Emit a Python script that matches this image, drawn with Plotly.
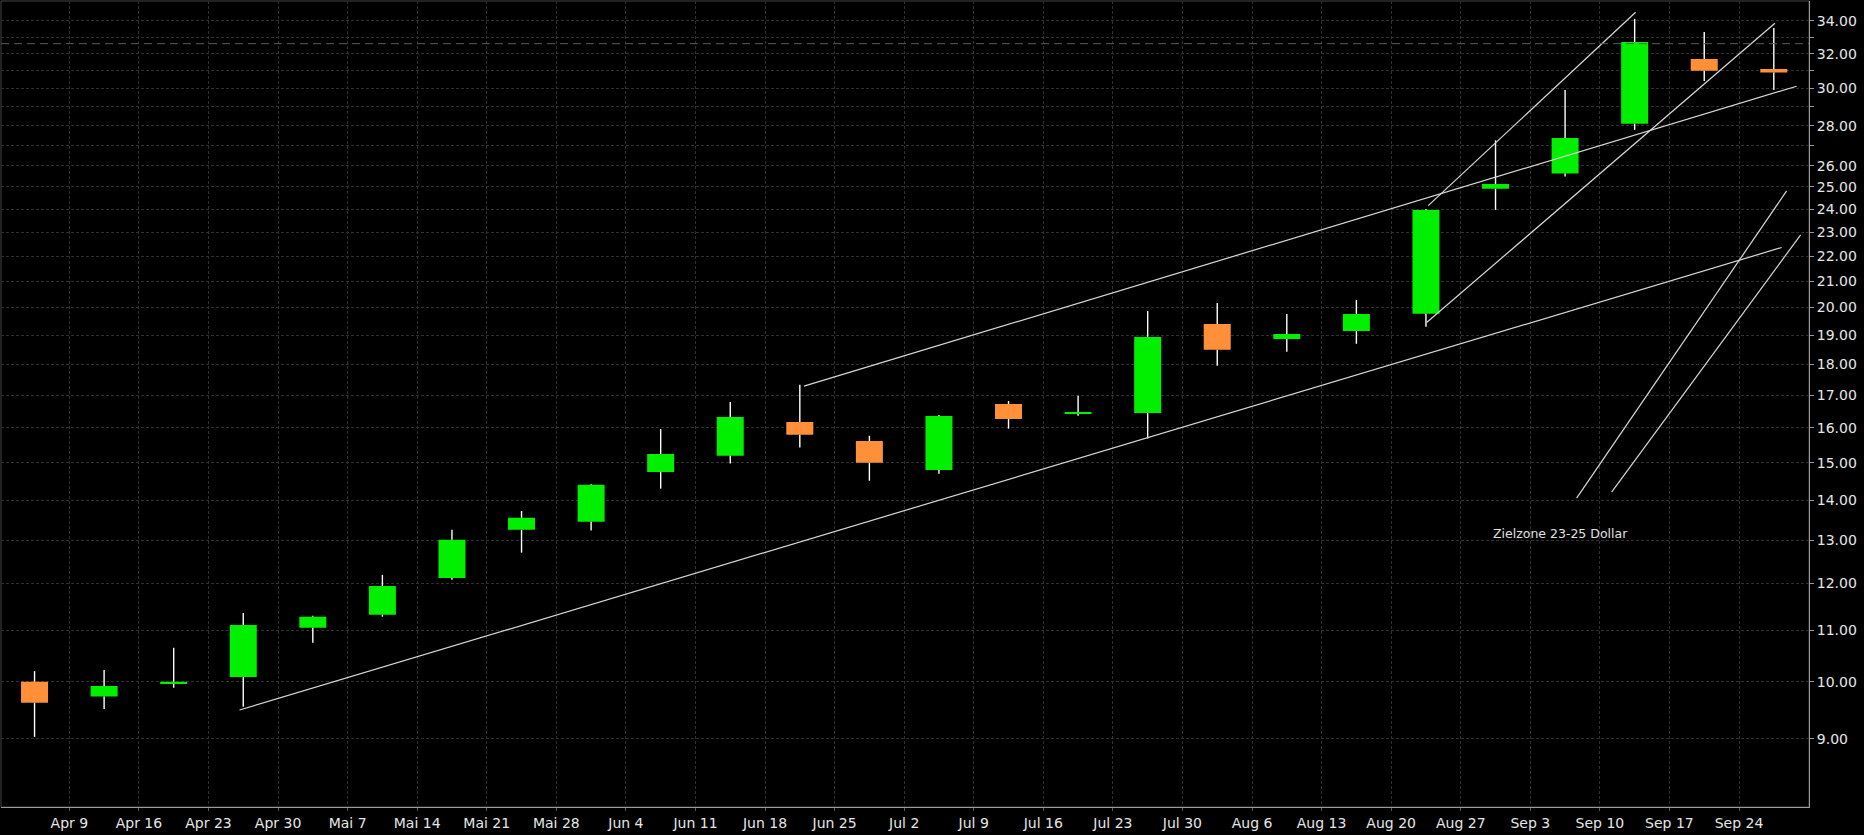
import math
import plotly.graph_objects as go

# ---- data (weekly candles, week start dates) ----
weeks = ["2012-04-02", "2012-04-09", "2012-04-16", "2012-04-23", "2012-04-30",
         "2012-05-07", "2012-05-14", "2012-05-21", "2012-05-28", "2012-06-04",
         "2012-06-11", "2012-06-18", "2012-06-25", "2012-07-02", "2012-07-09",
         "2012-07-16", "2012-07-23", "2012-07-30", "2012-08-06", "2012-08-13",
         "2012-08-20", "2012-08-27", "2012-09-03", "2012-09-10", "2012-09-17",
         "2012-09-24"]
opens = [10.00, 9.73, 9.96, 10.09, 11.05, 11.32, 12.12, 13.25, 13.45, 14.75,
         15.20, 16.18, 15.62, 14.80, 16.73, 16.42, 16.45, 19.40, 18.87, 19.15,
         19.77, 24.92, 25.63, 28.11, 31.69, 31.11]
highs = [10.20, 10.22, 10.65, 11.36, 11.30, 12.19, 13.25, 13.72, 14.42, 15.97,
         16.79, 17.33, 15.77, 16.39, 16.82, 16.98, 19.87, 20.17, 19.76, 20.28,
         24.00, 27.26, 29.92, 34.13, 33.31, 33.56]
lows = [9.03, 9.51, 9.89, 9.55, 10.75, 11.28, 12.08, 12.70, 13.23, 14.30,
        14.98, 15.43, 14.51, 14.70, 15.98, 16.37, 15.69, 17.95, 18.43, 18.70,
        19.30, 23.96, 25.49, 27.79, 30.42, 29.92]
closes = [9.62, 9.92, 10.00, 11.11, 11.28, 11.94, 13.01, 13.55, 14.40, 15.25,
          16.33, 15.80, 15.00, 16.36, 16.27, 16.48, 18.94, 18.49, 19.04, 19.76,
          23.96, 25.14, 27.38, 32.70, 31.01, 30.90]

tick_dates = weeks[1:]
tick_labels = ["Apr 9", "Apr 16", "Apr 23", "Apr 30", "Mai 7", "Mai 14", "Mai 21",
               "Mai 28", "Jun 4", "Jun 11", "Jun 18", "Jun 25", "Jul 2", "Jul 9",
               "Jul 16", "Jul 23", "Jul 30", "Aug 6", "Aug 13", "Aug 20", "Aug 27",
               "Sep 3", "Sep 10", "Sep 17", "Sep 24"]

price_ticks = list(range(9, 35))
price_labels = ["" if (v > 26 and v % 2 == 1) else f"{v:.2f}" for v in price_ticks]

# drawn trend lines: (x start, x end), (y start, y end)
trend_lines = [
    (["2012-04-26 03:00", "2012-09-28 07:00"], [9.49, 22.35]),
    (["2012-06-21 22:00", "2012-09-29 19:00"], [17.29, 30.13]),
    (["2012-08-23 13:40", "2012-09-27 14:40"], [19.45, 33.86]),
    (["2012-08-23 17:30", "2012-09-13 14:20"], [24.15, 34.55]),
    (["2012-09-07 15:50", "2012-09-28 19:00"], [14.05, 24.82]),
    (["2012-09-11 04:20", "2012-09-30 04:50"], [14.21, 22.88]),
]
level_price = 32.6
note_text = "Zielzone 23-25 Dollar"
note_x = "2012-09-06"
note_y = 13.17

x_range = ["2012-04-02 03:00", "2012-10-01 01:00"]
y_range = [7.93, 35.28]

GREEN = "#00F000"
ORANGE = "#FF9038"
FONT = "DejaVu Sans"
WEEK_MS = 7 * 24 * 3600 * 1000

fig = go.Figure()

# wicks (drawn outside the bodies)
wx, wy = [], []
for d, o, h, l, c in zip(weeks, opens, highs, lows, closes):
    top, bot = max(o, c), min(o, c)
    wx += [d, d, d, d, d, d]
    wy += [h, top, None, bot, l, None]
fig.add_trace(go.Scatter(
    x=wx, y=wy, mode="lines", line=dict(color="#ffffff", width=1.4),
    xperiod=WEEK_MS, xperiod0=weeks[0], xperiodalignment="middle",
    hoverinfo="skip", showlegend=False))

fig.add_trace(go.Candlestick(
    x=weeks, open=opens, high=highs, low=lows, close=closes,
    xperiod=WEEK_MS, xperiod0=weeks[0], xperiodalignment="middle",
    increasing=dict(fillcolor=GREEN, line=dict(color=GREEN, width=0)),
    decreasing=dict(fillcolor=ORANGE, line=dict(color=ORANGE, width=0)),
    whiskerwidth=0, showlegend=False))

for xs, ys in trend_lines:
    fig.add_trace(go.Scatter(x=xs, y=ys, mode="lines",
                             line=dict(color="#d8d8d8", width=1.2),
                             hoverinfo="skip", showlegend=False))

fig.add_trace(go.Scatter(x=x_range, y=[level_price, level_price], mode="lines",
                         line=dict(color="#5c5c5c", width=1, dash="8px,5px"),
                         hoverinfo="skip", showlegend=False))

fig.add_annotation(x=note_x, y=math.log10(note_y), text=note_text, showarrow=False,
                   xanchor="center", yanchor="middle",
                   font=dict(family=FONT, size=12.5, color="#e0e0e0"))

fig.add_shape(type="rect", xref="paper", yref="paper", x0=0, x1=1, y0=0, y1=1,
              line=dict(color="#454545", width=1), layer="below")

grid = dict(showgrid=True, gridcolor="#303030", griddash="3px,2px", gridwidth=1)

fig.update_layout(
    width=1864, height=835,
    margin=dict(l=1, r=55, t=1, b=28),
    paper_bgcolor="#000000", plot_bgcolor="#000000",
    boxgap=0.612, boxgroupgap=0,
    showlegend=False,
    xaxis=dict(type="date", range=x_range, tickmode="array", tickvals=tick_dates,
               ticktext=tick_labels, showline=True, linecolor="#9a9a9a", linewidth=1,
               ticks="outside", ticklen=3, tickcolor="#5a5a5a",
               tickfont=dict(family=FONT, size=14, color="#e6e6e6"),
               rangeslider=dict(visible=False), zeroline=False, automargin=False,
               **grid),
    yaxis=dict(type="log", side="right",
               range=[math.log10(y_range[0]), math.log10(y_range[1])],
               tickmode="array", tickvals=price_ticks, ticktext=price_labels,
               showline=True, linecolor="#9a9a9a", linewidth=1,
               ticks="outside", ticklen=4, tickcolor="#9a9a9a",
               tickfont=dict(family=FONT, size=14, color="#e6e6e6"),
               zeroline=False, automargin=False, **grid),
)

fig.write_html("out.html",
               config={"displayModeBar": False},
               post_script="document.body.style.margin='0';"
                           "document.body.style.background='#000';"
                           "document.body.style.overflow='hidden';")
